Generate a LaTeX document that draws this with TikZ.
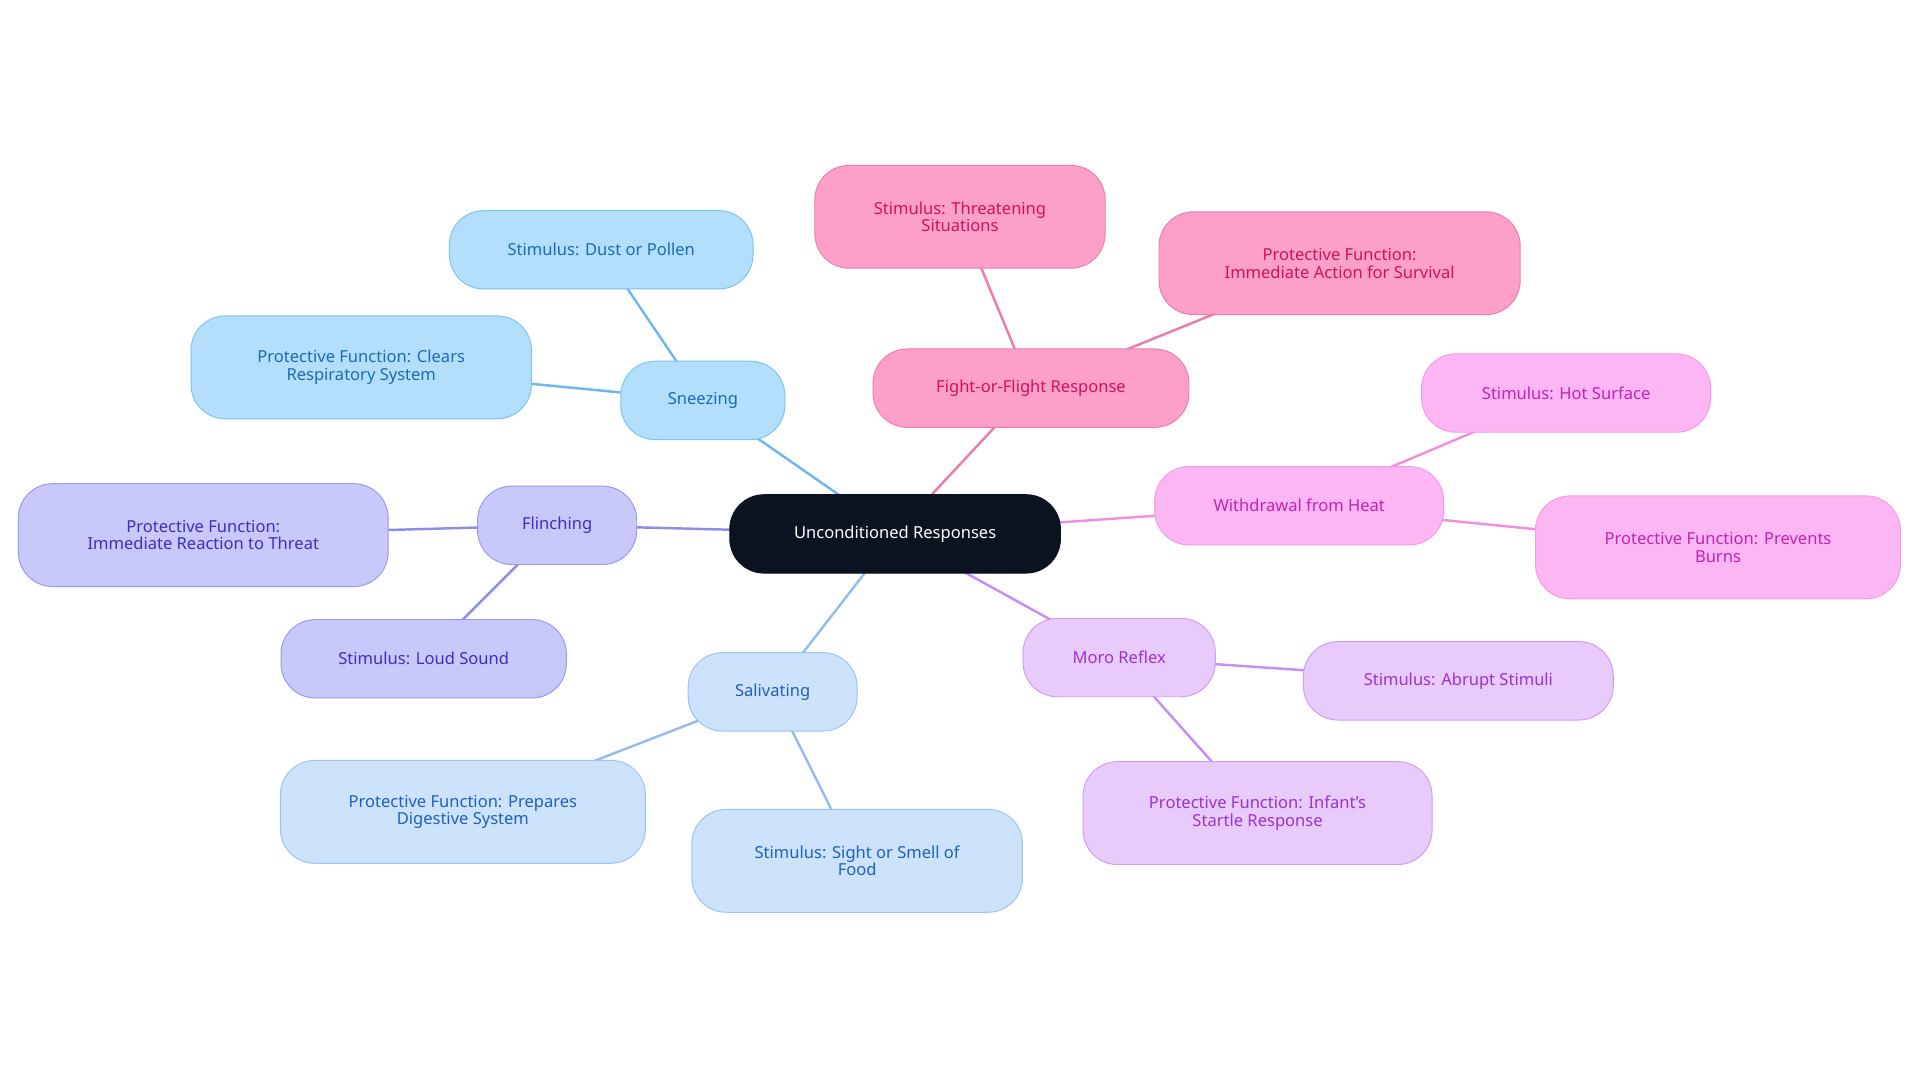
\documentclass[tikz,border=0pt]{standalone}
\usepackage{fontspec}
\setmainfont{Noto Sans}
\usetikzlibrary{backgrounds}
\definecolor{rootc}{HTML}{0B1220}
\definecolor{snF}{HTML}{B3DFFC}\definecolor{snD}{HTML}{7CC3F2}\definecolor{snT}{HTML}{1A6BB5}\definecolor{snL}{HTML}{6CB8EE}
\definecolor{flF}{HTML}{C9C8FB}\definecolor{flD}{HTML}{9A98EF}\definecolor{flT}{HTML}{3A2FC0}\definecolor{flL}{HTML}{8E8CEB}
\definecolor{saF}{HTML}{CDE3FB}\definecolor{saD}{HTML}{9CC3EF}\definecolor{saT}{HTML}{1F5FC0}\definecolor{saL}{HTML}{94BDEE}
\definecolor{fiF}{HTML}{FDA0C9}\definecolor{fiD}{HTML}{F07CAE}\definecolor{fiT}{HTML}{D0105E}\definecolor{fiL}{HTML}{EC7AAE}
\definecolor{wiF}{HTML}{FDB6F4}\definecolor{wiD}{HTML}{F39AE8}\definecolor{wiT}{HTML}{C222B3}\definecolor{wiL}{HTML}{F08FE2}
\definecolor{moF}{HTML}{E8CBFB}\definecolor{moD}{HTML}{CF9CF5}\definecolor{moT}{HTML}{9A31D0}\definecolor{moL}{HTML}{C68DF2}
\tikzset{
 box/.style={rounded corners=28pt,draw,line width=0.8pt,align=center,font=\fontsize{13.5}{14.5}\selectfont,inner sep=0pt,minimum height=64pt},
 tall/.style={minimum height=84pt},
 sn/.style={box,fill=snF,draw=snD,text=snT},
 fl/.style={box,fill=flF,draw=flD,text=flT},
 sa/.style={box,fill=saF,draw=saD,text=saT},
 fi/.style={box,fill=fiF,draw=fiD,text=fiT},
 wi/.style={box,fill=wiF,draw=wiD,text=wiT},
 mo/.style={box,fill=moF,draw=moD,text=moT},
 ln/.style={line width=2pt},
}
\begin{document}
\begin{tikzpicture}[x=1pt,y=-1pt]
\useasboundingbox (0,0) rectangle (1568,884);
\node[box,fill=rootc,draw=rootc,text=white,minimum width=270pt] (r) at (731,436) {Unconditioned Responses};
\node[sn,minimum width=134pt] (sn) at (574,327) {Sneezing};
\node[sn,minimum width=248pt] (sn1) at (491,204) {Stimulus: Dust or Pollen};
\node[sn,tall,minimum width=278pt] (sn2) at (295,300) {Protective Function: Clears\\Respiratory System};
\node[fl,minimum width=130pt] (fl) at (455,429) {Flinching};
\node[fl,tall,minimum width=302pt] (fl1) at (166,437) {Protective Function:\\Immediate Reaction to Threat};
\node[fl,minimum width=233pt] (fl2) at (346,538) {Stimulus: Loud Sound};
\node[sa,minimum width=138pt] (sa) at (631,565) {Salivating};
\node[sa,tall,minimum width=298pt] (sa1) at (378,663) {Protective Function: Prepares\\Digestive System};
\node[sa,tall,minimum width=270pt] (sa2) at (700,703) {Stimulus: Sight or Smell of\\Food};
\node[fi,minimum width=258pt] (fi) at (842,317) {Fight-or-Flight Response};
\node[fi,tall,minimum width=237pt] (fi1) at (784,177) {Stimulus: Threatening\\Situations};
\node[fi,tall,minimum width=295pt] (fi2) at (1094,215) {Protective Function:\\Immediate Action for Survival};
\node[wi,minimum width=236pt] (wi) at (1061,413) {Withdrawal from Heat};
\node[wi,minimum width=236pt] (wi1) at (1279,321) {Stimulus: Hot Surface};
\node[wi,tall,minimum width=298pt] (wi2) at (1403,447) {Protective Function: Prevents\\Burns};
\node[mo,minimum width=157pt] (mo) at (914,537) {Moro Reflex};
\node[mo,minimum width=253pt] (mo1) at (1191,556) {Stimulus: Abrupt Stimuli};
\node[mo,tall,minimum width=285pt] (mo2) at (1027,664) {Protective Function: Infant's\\Startle Response};
\begin{scope}[on background layer]
\draw[ln,snL] (r.center)--(sn.center) (sn.center)--(sn1.center) (sn.center)--(sn2.center);
\draw[ln,flL] (r.center)--(fl.center) (fl.center)--(fl1.center) (fl.center)--(fl2.center);
\draw[ln,saL] (r.center)--(sa.center) (sa.center)--(sa1.center) (sa.center)--(sa2.center);
\draw[ln,fiL] (r.center)--(fi.center) (fi.center)--(fi1.center) (fi.center)--(fi2.center);
\draw[ln,wiL] (r.center)--(wi.center) (wi.center)--(wi1.center) (wi.center)--(wi2.center);
\draw[ln,moL] (r.center)--(mo.center) (mo.center)--(mo1.center) (mo.center)--(mo2.center);
\end{scope}
\end{tikzpicture}
\end{document}
